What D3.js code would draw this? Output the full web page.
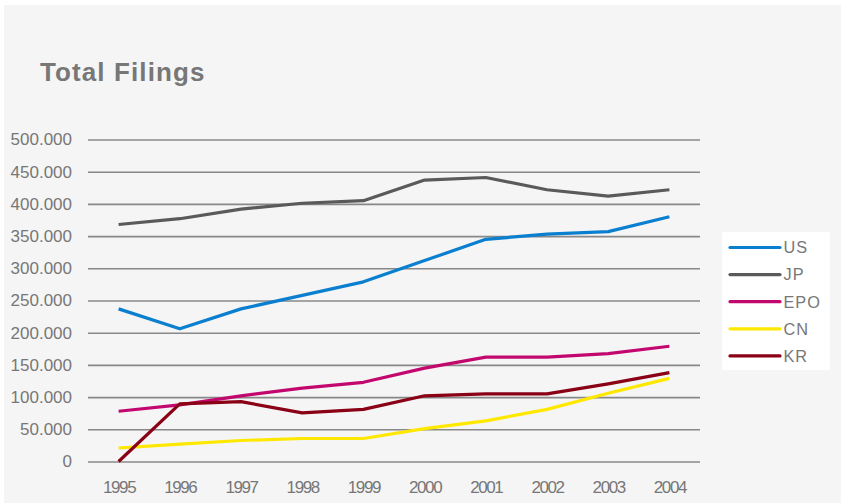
<!DOCTYPE html>
<html><head><meta charset="utf-8">
<script src="https://cdn.jsdelivr.net/npm/d3@7"></script>
<style>html,body{margin:0;padding:0;background:#fff;}svg{display:block;}</style>
</head><body>
<script>
const years = ["1995","1996","1997","1998","1999","2000","2001","2002","2003","2004"];
const seriesNames = ["US","JP","EPO","CN","KR"];
const US  = [237000,206000,237000,258000,279000,312000,345000,353000,357000,380000];
const JP  = [368000,377000,392000,401000,405000,437000,441000,422000,412000,422000];
const EPO = [78000,88000,102000,114000,123000,145000,162000,162000,167500,179000];
const CN  = [21000,27000,32600,35700,35700,51000,63000,81000,106000,129000];
const KR  = [0,89500,93000,75500,81000,102000,105000,105000,120500,138000];
const yTicks = [0,50000,100000,150000,200000,250000,300000,350000,400000,450000,500000];
const colors = ["#0a7fd0","#5a5a5a","#c2086f","#ffe800","#8a0015"];
const values = [US,JP,EPO,CN,KR];

const W=845,H=503;
const svg=d3.select("body").append("svg").attr("width",W).attr("height",H);
svg.append("rect").attr("x",4).attr("y",5).attr("width",W-8).attr("height",H-5).attr("fill","#f5f5f5");

svg.append("text").attr("x",40).attr("y",80.5).text("Total Filings")
  .attr("font-family","Liberation Sans, Arial, sans-serif").attr("font-weight","bold")
  .attr("font-size",26).attr("letter-spacing",1.1).attr("fill","#777");

const x=d3.scalePoint().domain(years).range([88,700]).padding(0.5);
const y=d3.scaleLinear().domain([0,500000]).range([461.5,139.5]);

const fmt=v=>v===0?"0":d3.format(",")(v).replace(/,/g,".");
const ga=svg.append("g").attr("transform","translate(88,0)")
  .call(d3.axisLeft(y).tickValues(yTicks).tickFormat(fmt).tickSize(-612).tickPadding(16));
ga.select(".domain").remove();
ga.selectAll(".tick line").attr("stroke","#888").attr("stroke-width",1.6);
ga.selectAll(".tick text").attr("font-family","Liberation Sans, Arial, sans-serif").attr("font-size",17).attr("fill","#777");

const gx=svg.append("g").attr("transform","translate(0,461.5)")
  .call(d3.axisBottom(x).tickSize(0).tickPadding(19.7));
gx.select(".domain").remove();
gx.selectAll(".tick text").attr("font-family","Liberation Sans, Arial, sans-serif").attr("font-size",17)
  .attr("letter-spacing",-1.4).attr("fill","#777");

const line=d3.line().x((d,i)=>x(years[i])).y(d=>y(d));
values.forEach((vals,k)=>{
  svg.append("path").datum(vals).attr("d",line).attr("fill","none")
    .attr("stroke",colors[k]).attr("stroke-width",3.2).attr("stroke-linejoin","round");
});

const lg=svg.append("g");
lg.append("rect").attr("x",722).attr("y",232).attr("width",108).attr("height",138).attr("fill","#fff");
seriesNames.forEach((n,i)=>{
  const yy=247.5+i*27.1;
  lg.append("line").attr("x1",730).attr("x2",780).attr("y1",yy).attr("y2",yy)
    .attr("stroke",colors[i]).attr("stroke-width",3.2).attr("stroke-linecap","round");
  lg.append("text").attr("x",783.5).attr("y",yy+5.8).text(n)
    .attr("font-family","Liberation Sans, Arial, sans-serif").attr("font-size",16.3)
    .attr("letter-spacing",1).attr("fill","#777");
});
</script>
</body></html>
